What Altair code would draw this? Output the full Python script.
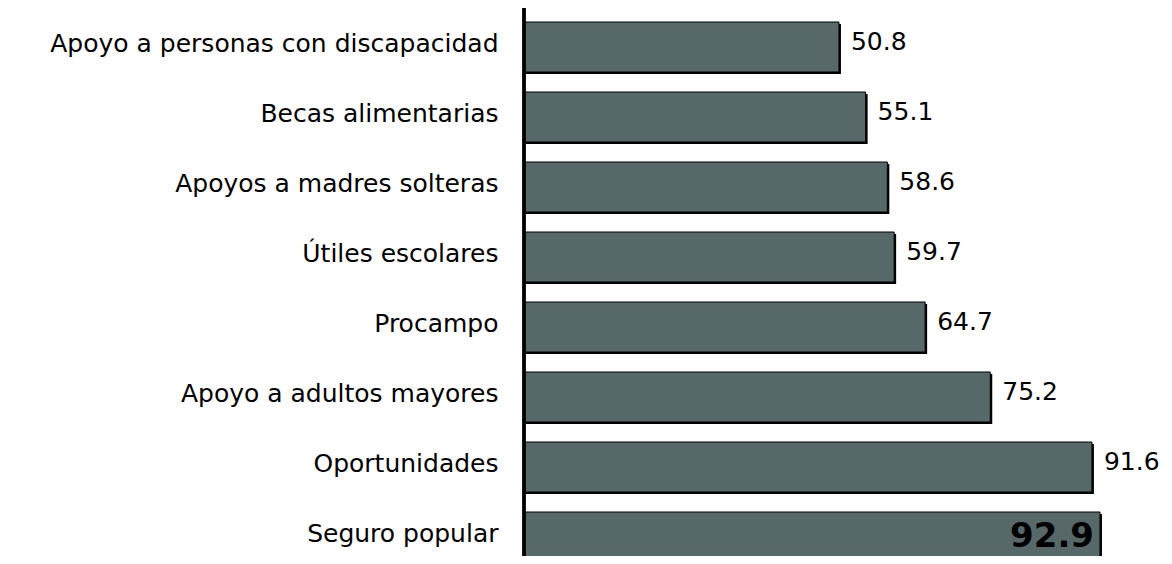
import altair as alt
import pandas as pd

categories = [
    "Apoyo a personas con discapacidad",
    "Becas alimentarias",
    "Apoyos a madres solteras",
    "Útiles escolares",
    "Procampo",
    "Apoyo a adultos mayores",
    "Oportunidades",
    "Seguro popular",
]
values = [50.8, 55.1, 58.6, 59.7, 64.7, 75.2, 91.6, 92.9]

df = pd.DataFrame({"programa": categories, "valor": values})

FONT = "DejaVu Sans"
BAR = "#576869"

x_enc = alt.X("valor:Q", scale=alt.Scale(domain=[0, 100]), axis=None)
y_enc = alt.Y(
    "programa:N",
    sort=categories,
    scale=alt.Scale(range=[4, 564], paddingInner=20 / 70, paddingOuter=10 / 70),
    axis=alt.Axis(
        title=None,
        domain=False,
        ticks=False,
        grid=False,
        labelFont=FONT,
        labelFontSize=25,
        labelColor="#000000",
        labelPadding=26,
        labelLimit=0,
        labelOffset=-3,
    ),
)

base = alt.Chart(df)

shadow = base.mark_bar(color="#000000", xOffset=2, yOffset=2).encode(x=x_enc, y=y_enc)
bars = base.mark_bar(fill=BAR, stroke="#000000", strokeWidth=1).encode(x=x_enc, y=y_enc)

labels = (
    base.transform_filter(alt.datum.programa != "Seguro popular")
    .mark_text(align="left", baseline="middle", dx=12, dy=-5, font=FONT, fontSize=25, color="#000000")
    .encode(x=x_enc, y=y_enc, text=alt.Text("valor:Q", format=".1f"))
)

big_label = (
    base.transform_filter(alt.datum.programa == "Seguro popular")
    .mark_text(align="right", baseline="middle", dx=-6, dy=0, font=FONT, fontSize=34, fontWeight="bold", color="#000000")
    .encode(x=x_enc, y=y_enc, text=alt.Text("valor:Q", format=".1f"))
)

axis_line = base.mark_rule(color="#000000", strokeWidth=2.5).encode(
    x=alt.value(0), y=alt.value(-1), y2=alt.value(548)
)

chart = (
    alt.layer(shadow, bars, labels, big_label, axis_line)
    .properties(
        width=620,
        height=548,
        background="#ffffff",
        autosize=alt.AutoSizeParams(type="none"),
        padding={"left": 516, "top": 0, "right": 20, "bottom": 0},
    )
    .configure_view(strokeWidth=0, stroke="transparent")
)

chart.save("out.html", embed_options={"renderer": "svg", "actions": False})
